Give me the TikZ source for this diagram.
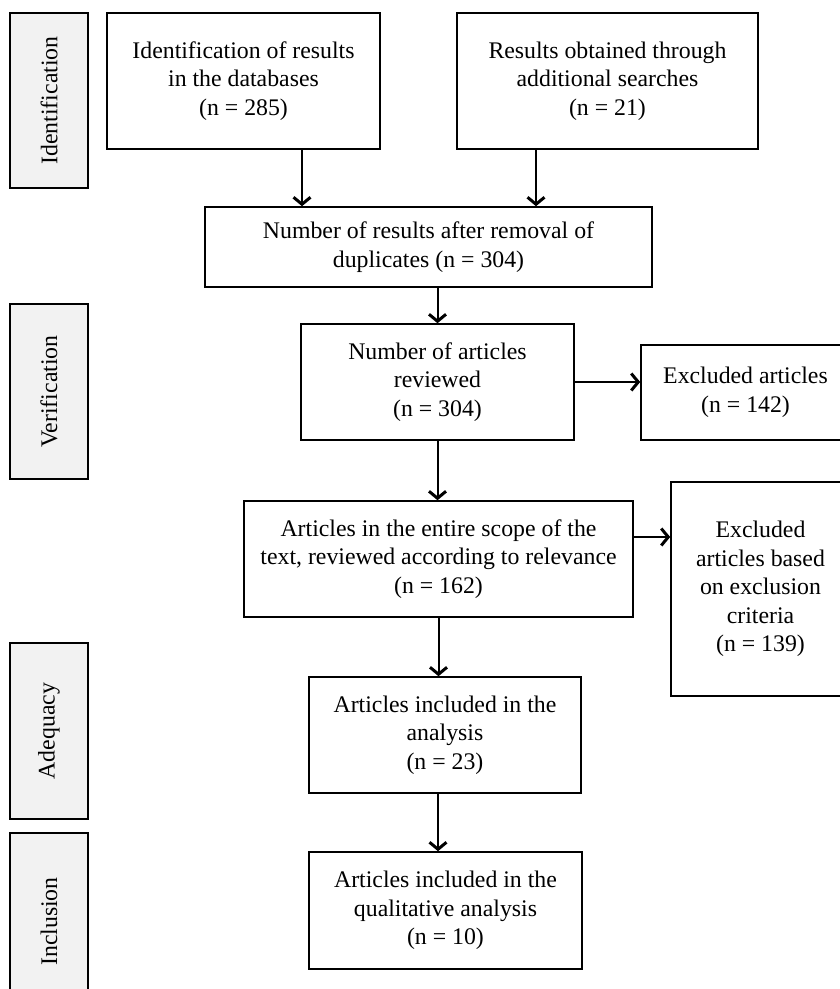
\documentclass[tikz,border=0pt]{standalone}
\usepackage{fontspec}
\setmainfont{Liberation Serif}
\usetikzlibrary{arrows.meta}
\usetikzlibrary{positioning}
\usepackage{xcolor}
\definecolor{stagefill}{HTML}{F2F2F2}
\tikzset{
  flowbox/.style={draw, rectangle, line width=1.6pt, align=center, inner sep=2pt, font=\fontsize{23.8}{28.5}\selectfont},
  stagebox/.style={draw, rectangle, line width=1.6pt, fill=stagefill, rotate=90, inner sep=2pt, font=\fontsize{23.8}{28.5}\selectfont},
  flowarrow/.style={line width=2pt, -{Straight Barb[length=7pt, width=17pt, line width=3pt]}}
}

\begin{document}
\begin{tikzpicture}[x=1pt, y=-1pt]
    \useasboundingbox (0,0) rectangle (840,989);

    \node[stagebox, minimum width=175pt, minimum height=78pt] (stident) at (49,100.5) {Identification};
    \node[stagebox, minimum width=175pt, minimum height=78pt] (stverif) at (49,391.5) {Verification};
    \node[stagebox, minimum width=176pt, minimum height=78pt] (stadequ) at (49,731) {Adequacy};
    \node[stagebox, minimum width=177pt, minimum height=78pt] (stincl) at (49,921.5) {Inclusion};

    \node[flowbox, minimum width=273pt, minimum height=136pt] (dbres) at (243.5,81) {Identification of results\\in the databases\\(n = 285)};
    \node[flowbox, minimum width=301pt, minimum height=136pt] (addres) at (607.5,81) {Results obtained through\\additional searches\\(n = 21)};
    \node[flowbox, minimum width=447pt, minimum height=80pt] (dedup) at (428.5,247) {Number of results after removal of\\duplicates (n = 304)};
    \node[flowbox, minimum width=273pt, minimum height=116pt] (reviewed) at (437.5,382) {Number of articles\\reviewed\\(n = 304)};
    \node[flowbox, minimum width=209pt, minimum height=95pt] (excla) at (745.5,392.5) {Excluded articles\\(n = 142)};
    \node[flowbox, minimum width=389pt, minimum height=116pt] (scope) at (438.5,559) {Articles in the entire scope of the\\text, reviewed according to relevance\\(n = 162)};
    \node[flowbox, minimum width=179pt, minimum height=214pt] (exclb) at (760.5,589) {Excluded\\articles based\\on exclusion\\criteria\\(n = 139)};
    \node[flowbox, minimum width=272pt, minimum height=116pt] (analysis) at (445,735) {Articles included in the\\analysis\\(n = 23)};
    \node[flowbox, minimum width=273pt, minimum height=117pt] (qualit) at (445.5,910.5) {Articles included in the\\qualitative analysis\\(n = 10)};

    \draw[flowarrow] ([xshift=58.5pt]dbres.south) -- ([xshift=58.5pt]dbres.south |- dedup.north);
    \draw[flowarrow] ([xshift=-71.5pt]addres.south) -- ([xshift=-71.5pt]addres.south |- dedup.north);
    \draw[flowarrow] (dedup.south -| reviewed.north) -- (reviewed.north);
    \draw[flowarrow] (reviewed.east) -- (reviewed.east -| excla.west);
    \draw[flowarrow] (reviewed.south) -- (reviewed.south |- scope.north);
    \draw[flowarrow] ([yshift=22pt]scope.east) -- ([yshift=22pt]scope.east -| exclb.west);
    \draw[flowarrow] (scope.south) -- (scope.south |- analysis.north);
    \draw[flowarrow] ([xshift=-7pt]analysis.south) -- ([xshift=-7pt]analysis.south |- qualit.north);
\end{tikzpicture}
\end{document}
